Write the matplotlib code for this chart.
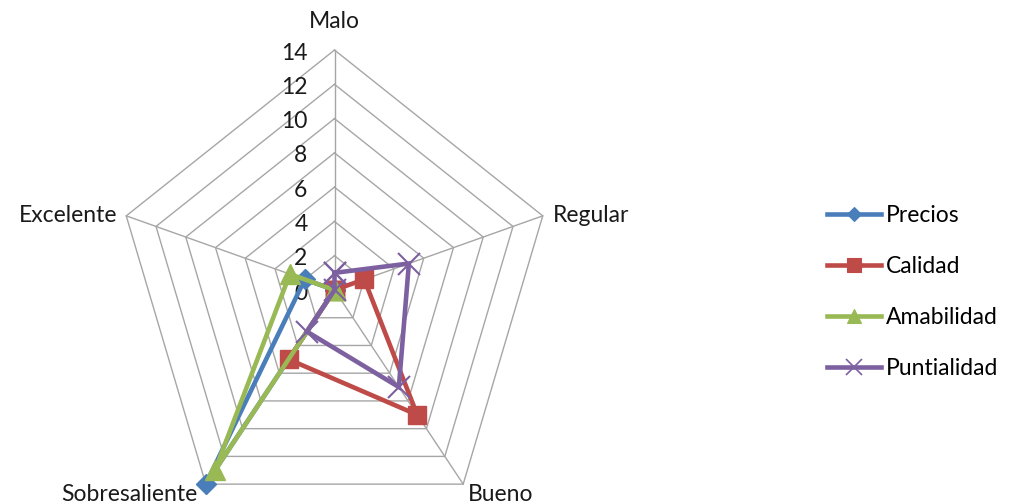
import numpy as np
import matplotlib
matplotlib.use("Agg")
import matplotlib.pyplot as plt
from matplotlib.lines import Line2D

plt.rcParams['font.family'] = ['Lato', 'DejaVu Sans']

categories = ["Malo", "Regular", "Bueno", "Sobresaliente", "Excelente"]
precios = [0, 0, 0, 14, 2]
calidad = [0, 2, 9, 5, 0]
amabilidad = [0, 0, 0, 13, 3]
puntialidad = [1, 5, 7, 3, 0]
series_names = ["Precios", "Calidad", "Amabilidad", "Puntialidad"]
ticks = [0, 2, 4, 6, 8, 10, 12, 14]
r_max = 14

colors = ["#4A7EBB", "#BE4B48", "#98B954", "#7D60A0"]
markers = ["D", "s", "^", "x"]
msizes = [10, 13, 14, 16]
FS = 16.5

W, H, DPI = 1016, 504, 100
fig = plt.figure(figsize=(W / DPI, H / DPI), dpi=DPI)
ax = fig.add_axes([0, 0, 1, 1])
ax.set_axis_off()

# pixel scale of one data unit along x and y, and chart centre in pixels
ux, uy = 15.64, 17.14
cx, cy = 334.5, 290.0
ax.set_xlim(-cx / ux, (W - cx) / ux)
ax.set_ylim(-(H - cy) / uy, cy / uy)

n = len(categories)
angles = np.pi / 2 - 2 * np.pi * np.arange(n) / n
dirx, diry = np.cos(angles), np.sin(angles)

def polar_xy(vals):
    v = np.asarray(vals, dtype=float)
    x = np.append(v * dirx, v[0] * dirx[0])
    y = np.append(v * diry, v[0] * diry[0])
    return x, y

grid_col = "#A6A6A6"
for t in ticks[1:]:
    gx, gy = polar_xy([t] * n)
    ax.plot(gx, gy, color=grid_col, lw=1.0, zorder=1)
for i in range(n):
    ax.plot([0, r_max * dirx[i]], [0, r_max * diry[i]], color=grid_col, lw=1.0, zorder=1)

# radial tick labels along the Malo axis
for t in ticks:
    ax.annotate(str(t), (0, t), xytext=(-27, -3), textcoords="offset pixels",
                ha="right", va="center", fontsize=FS, color="#1A1A1A")

# category labels at the outer vertices
label_off = {
    "Malo": (0, 29, "center", "center"),
    "Regular": (10, 0, "left", "center"),
    "Bueno": (5, -10, "left", "center"),
    "Sobresaliente": (-8, -10, "right", "center"),
    "Excelente": (-9, 0, "right", "center"),
}
for i, c in enumerate(categories):
    dx, dy, ha, va = label_off[c]
    ax.annotate(c, (r_max * dirx[i], r_max * diry[i]), xytext=(dx, dy),
                textcoords="offset pixels", ha=ha, va=va, fontsize=FS,
                color="#1A1A1A", annotation_clip=False)

all_series = [precios, calidad, amabilidad, puntialidad]
handles = []
for vals, name, col, mk, ms in zip(all_series, series_names, colors, markers, msizes):
    sx, sy = polar_xy(vals)
    mew = 1.5 if mk == "x" else 1.0
    ln, = ax.plot(sx, sy, color=col, lw=3.3, marker=mk, markersize=ms,
                  markeredgewidth=mew, markerfacecolor=col, markeredgecolor=col,
                  zorder=3, clip_on=False, solid_joinstyle="miter")
    handles.append(Line2D([], [], color=col, lw=3.3, marker=mk,
                          markersize=ms * 0.75, markeredgewidth=mew * 0.8,
                          markerfacecolor=col, markeredgecolor=col))

fig.legend(handles, series_names, loc="center left",
           bbox_to_anchor=(827 / W, 1 - 292 / H), frameon=False,
           fontsize=FS, handlelength=2.36, handletextpad=0.22,
           labelspacing=1.3, borderaxespad=0, borderpad=0)

fig.savefig("out.png", dpi=DPI)
